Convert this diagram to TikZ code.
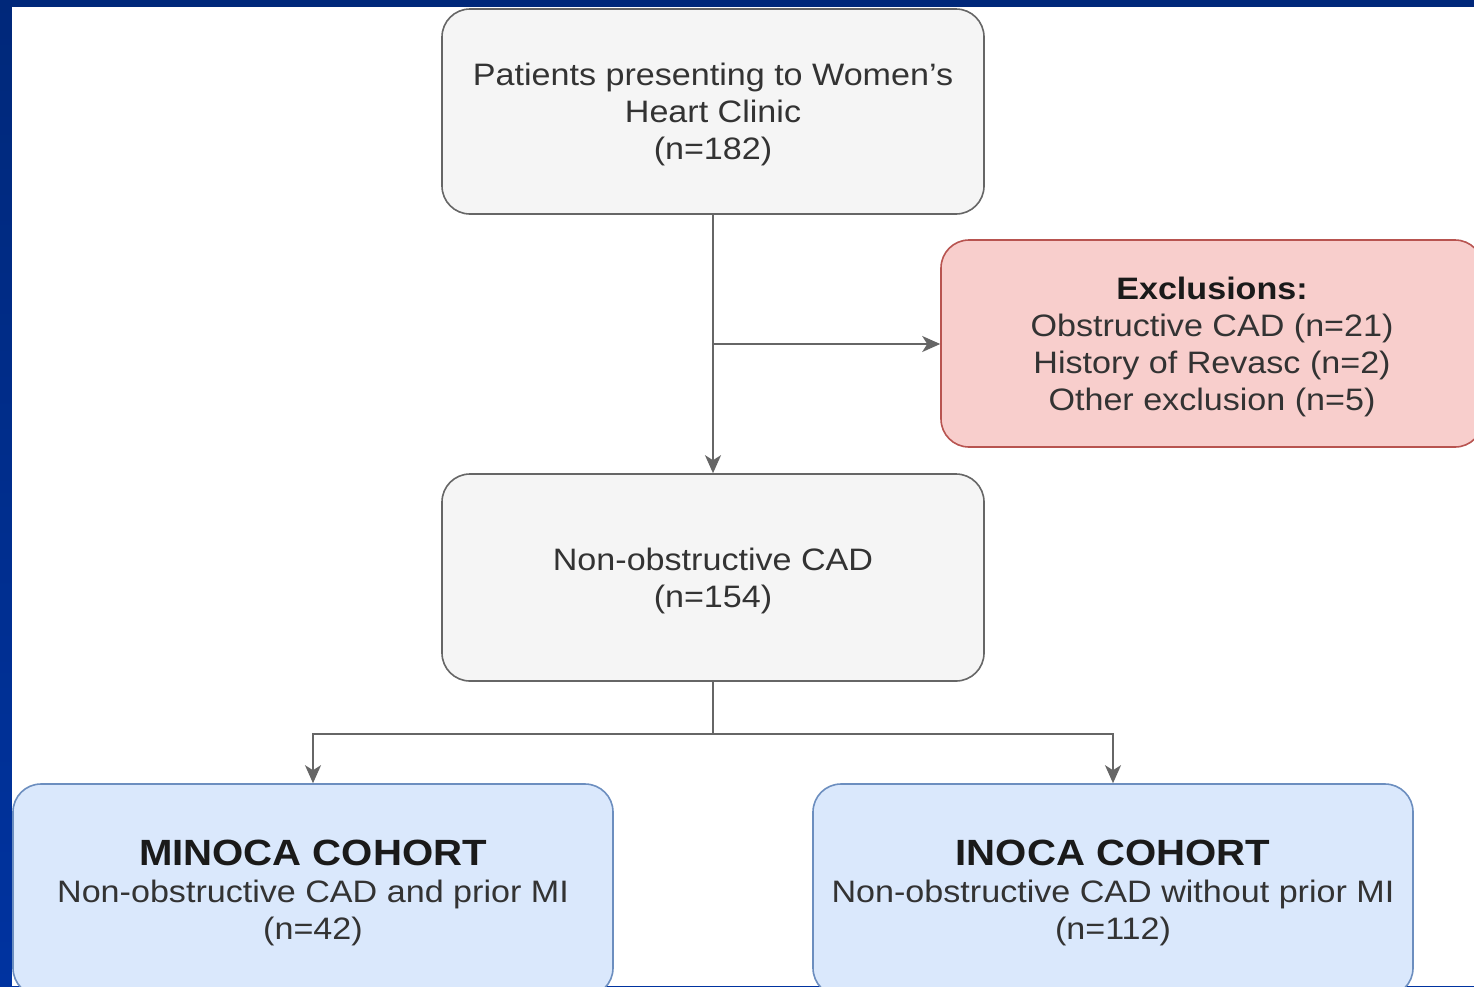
\documentclass[tikz,border=0pt]{standalone}
\usepackage{fontspec}
\setmainfont{Liberation Sans}[FakeStretch=1.1]
\usetikzlibrary{arrows.meta}
\definecolor{bluetop}{HTML}{00287A}
\definecolor{bluebot}{HTML}{0033A0}
\definecolor{greyfill}{HTML}{F5F5F5}
\definecolor{greyline}{HTML}{666666}
\definecolor{redfill}{HTML}{F8CECC}
\definecolor{redline}{HTML}{B85450}
\definecolor{bluefill}{HTML}{DAE8FC}
\definecolor{blueline}{HTML}{6C8EBF}
\definecolor{txt}{HTML}{333333}
\definecolor{titletxt}{HTML}{1A1A1A}
\tikzset{
  box/.style={draw, line width=1.6pt, rounded corners=28pt, inner sep=0pt,
    align=center, text=txt, font=\fontsize{31}{37}\selectfont},
  greybox/.style={box, fill=greyfill, draw=greyline},
  redbox/.style={box, fill=redfill, draw=redline},
  bluebox/.style={box, fill=bluefill, draw=blueline},
  conn/.style={draw=greyline, line width=1.8pt,
    -{Stealth[length=18pt,width=16pt,inset=5pt]}},
  plainline/.style={draw=greyline, line width=1.8pt},
}
\newcommand{\ttl}[1]{{\color{titletxt}\bfseries #1}}
\newcommand{\strutA}{\rule{0pt}{28.6pt}}
\newcommand{\strutB}{\rule{0pt}{32pt}}
\begin{document}
\begin{tikzpicture}[x=1pt,y=-1pt]
\useasboundingbox (0,0) rectangle (1474,986);
\clip (0,0) rectangle (1474,986);
\shade[top color=bluetop, bottom color=bluebot] (0,0) rectangle (1474,986);
\fill[white] (12,7) rectangle (1474,986);

\node[greybox, minimum width=542pt, minimum height=205pt] (start) at (713,111.5)
  {\strutA Patients presenting to Women's\\Heart Clinic\\(n=182)};
\node[redbox, minimum width=542pt, minimum height=207pt] (excl) at (1212,343.5)
  {\strutA\ttl{Exclusions:}\\Obstructive CAD (n=21)\\History of Revasc (n=2)\\Other exclusion (n=5)};
\node[greybox, minimum width=542pt, minimum height=207pt] (mid) at (713,577.5)
  {\strutA Non-obstructive CAD\\(n=154)};
\node[bluebox, minimum width=600pt, minimum height=212pt] (minoca) at (313,890)
  {\strutB\ttl{\fontsize{36.5}{37}\selectfont MINOCA COHORT}\\Non-obstructive CAD and prior MI\\(n=42)};
\node[bluebox, minimum width=600pt, minimum height=212pt] (inoca) at (1113,890)
  {\strutB\ttl{\fontsize{36.5}{37}\selectfont INOCA COHORT}\\Non-obstructive CAD without prior MI\\(n=112)};

\draw[conn] (start) -- (mid);
\coordinate (j1) at (713,344);
\draw[conn] (j1) -- (j1 -| excl.west);
\draw[plainline] (mid.south) -- ++(0,52) coordinate (j2);
\draw[conn] (j2) -| (minoca.north);
\draw[conn] (j2) -| (inoca.north);
\end{tikzpicture}
\end{document}
